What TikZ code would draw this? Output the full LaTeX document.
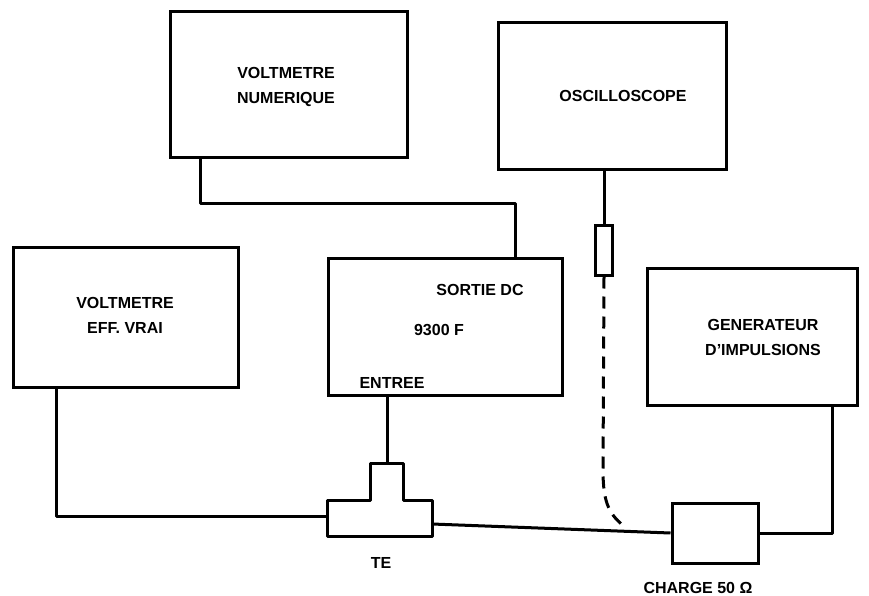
\documentclass[tikz,border=0pt]{standalone}
\usepackage{fontspec}
\setmainfont{Liberation Sans}
\begin{document}
\begin{tikzpicture}[x=1pt,y=-1pt,
  box/.style={draw, line width=3pt, rectangle, inner sep=0pt},
  wire/.style={line width=3pt, line join=round},
  lbl/.style={font=\bfseries\fontsize{16}{25}\selectfont, align=center, inner sep=0pt}]
\useasboundingbox (0,0) rectangle (869,596);
% boxes
\node[box, minimum width=237pt, minimum height=146pt] (vn) at (288.5,85) {};
\node[box, minimum width=228pt, minimum height=147pt] (osc) at (612,96.5) {};
\node[box, minimum width=234pt, minimum height=137pt] (dc) at (445,326.5) {};
\node[box, minimum width=225pt, minimum height=140pt] (ve) at (125.5,317) {};
\node[box, minimum width=210pt, minimum height=137pt] (gen) at (752,336.5) {};
% labels
\node[lbl] (tvn) at (286,87) {VOLTMETRE\\NUMERIQUE};
\node[lbl] (tosc) at (623,96) {OSCILLOSCOPE};
\node[lbl] (tve) at (125,315) {VOLTMETRE\\EFF. VRAI};
\node[lbl] (tgen) at (763,337) {GENERATEUR\\D'IMPULSIONS};
\node[lbl] (tsdc) at (480,290) {SORTIE DC};
\node[lbl] (t93) at (439,330) {9300 F};
\node[lbl] (tent) at (392,383) {ENTREE};
% T connector
\draw[wire] (327,500) -- (370,500) -- (370,463) -- (403,463) -- (403,500) -- (432,500)
   -- (432,536) -- (327,536) -- cycle;
\coordinate (teL) at (327,516);
\coordinate (teR) at (432,524);
\coordinate (teT) at (387,463);
\node[lbl] (tte) at (381,563) {TE};
% charge
\node[box, minimum width=86pt, minimum height=60pt] (ch) at (715,533) {};
\node[lbl] (tch) at (698,588) {CHARGE 50 Ω};
% probe
\node[box, minimum width=17pt, minimum height=50pt] (pr) at (604,250) {};
% wires
\draw[wire] (vn.south west) ++(32,0) |- (515,203) -- (dc.north -| 515,0);
\draw[wire] ([xshift=-69pt]ve.south) |- (teL);
\draw[wire] (teT) -- (teT |- dc.south);
\draw[wire] (teR) -- (ch.west);
\draw[wire] (ch.east) -| ([xshift=80pt]gen.south);
\draw[wire] (osc.south -| pr.north) -- (pr.north);
\draw[wire, dash pattern=on 12pt off 8pt] (pr.south) -- (603,470) .. controls (603,505) and (610,515) .. (626,528);
\end{tikzpicture}
\end{document}
